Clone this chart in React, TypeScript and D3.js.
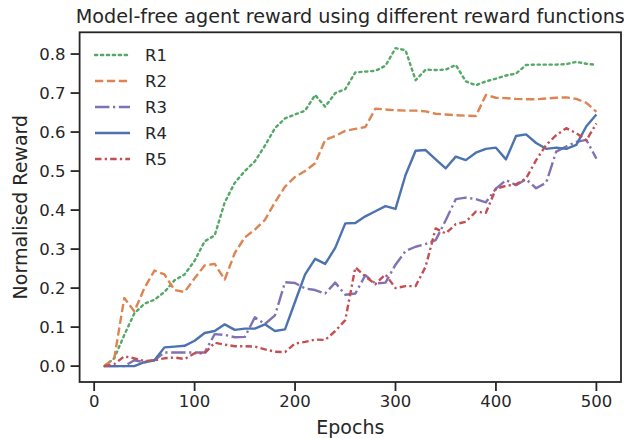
import React from "react";
import * as d3 from "d3";

const epochs = [10,20,30,40,50,60,70,80,90,100,110,120,130,140,150,160,170,180,190,200,210,220,230,240,250,260,270,280,290,300,310,320,330,340,350,360,370,380,390,400,410,420,430,440,450,460,470,480,490,500];

const r1 = [0.0,0.02,0.08,0.135,0.16,0.17,0.19,0.22,0.235,0.27,0.32,0.335,0.42,0.47,0.5,0.525,0.565,0.61,0.635,0.645,0.655,0.695,0.665,0.7,0.71,0.753,0.755,0.757,0.77,0.815,0.81,0.733,0.76,0.759,0.76,0.772,0.73,0.72,0.73,0.737,0.745,0.75,0.772,0.773,0.773,0.773,0.774,0.78,0.775,0.772];
const r2 = [0.0,0.02,0.175,0.14,0.2,0.245,0.235,0.195,0.19,0.225,0.258,0.262,0.222,0.29,0.33,0.35,0.375,0.42,0.46,0.485,0.5,0.52,0.58,0.59,0.603,0.608,0.613,0.66,0.658,0.656,0.655,0.655,0.653,0.647,0.645,0.643,0.642,0.641,0.695,0.688,0.687,0.685,0.684,0.684,0.686,0.688,0.689,0.685,0.675,0.652];
const r3 = [0.0,0.0,0.0,0.015,0.01,0.015,0.035,0.035,0.035,0.035,0.035,0.082,0.08,0.074,0.075,0.125,0.108,0.13,0.215,0.213,0.199,0.195,0.186,0.214,0.183,0.186,0.233,0.212,0.214,0.26,0.295,0.306,0.313,0.323,0.374,0.428,0.432,0.428,0.42,0.455,0.477,0.464,0.479,0.456,0.47,0.55,0.563,0.575,0.58,0.532];
const r4 = [0.0,0.0,0.0,0.0,0.01,0.015,0.048,0.05,0.052,0.065,0.085,0.09,0.107,0.093,0.096,0.096,0.107,0.09,0.094,0.165,0.235,0.275,0.262,0.303,0.366,0.367,0.384,0.397,0.41,0.403,0.49,0.552,0.554,0.53,0.507,0.537,0.528,0.547,0.557,0.56,0.53,0.59,0.594,0.572,0.557,0.56,0.557,0.567,0.615,0.645];
const r5 = [0.0,0.005,0.025,0.02,0.013,0.015,0.02,0.022,0.018,0.033,0.033,0.06,0.055,0.051,0.051,0.05,0.043,0.037,0.036,0.058,0.062,0.068,0.067,0.09,0.118,0.253,0.23,0.21,0.235,0.2,0.205,0.205,0.255,0.353,0.34,0.364,0.37,0.396,0.393,0.455,0.462,0.466,0.481,0.528,0.567,0.592,0.61,0.597,0.579,0.622];

const seriesNames = ["R1", "R2", "R3", "R4", "R5"];
const seriesValues = [r1, r2, r3, r4, r5];
const colors = ["#55A868", "#DD8452", "#8172B3", "#4C72B0", "#C44E52"];
const dashes = ["2.25,3.7", "8.3,3.6", "14.4,3.6,2.25,3.6", "", "6.5,3.2,2.25,3.2"];

const xTicks = [0, 100, 200, 300, 400, 500];
const yTicks = [0.0, 0.1, 0.2, 0.3, 0.4, 0.5, 0.6, 0.7, 0.8];

const W = 624, H = 438;
const left = 79.6, right = 621, top = 32.3, bottom = 382;
const ink = "#262626";
const font = "DejaVu Sans, sans-serif";

export default function App() {
  const x = d3.scaleLinear().domain([-14.5, 524.5]).range([left, right]);
  const y = d3.scaleLinear().domain([-0.04075, 0.85575]).range([bottom, top]);
  const line = d3.line<[number, number]>().x(d => x(d[0])).y(d => y(d[1]));

  return (
    <svg width={W} height={H} style={{ position: "absolute", left: 0, top: 0, background: "#fff" }} fontFamily={font}>
      <rect x={0} y={0} width={W} height={H} fill="#fff" />
      <text x={(left + right) / 2} y={23} textAnchor="middle" fontSize={19.2} fill={ink}>
        Model-free agent reward using different reward functions
      </text>
      {seriesValues.map((vals, i) => (
        <path key={i}
          d={line(epochs.map((e, j) => [e, vals[j]] as [number, number])) || ""}
          fill="none" stroke={colors[i]} strokeWidth={2.4}
          strokeDasharray={dashes[i] || undefined}
          strokeLinecap={i === 0 ? "round" : "butt"} strokeLinejoin="round" />
      ))}
      <rect x={left} y={top} width={right - left} height={bottom - top} fill="none" stroke={ink} strokeWidth={1.8} />
      {xTicks.map(t => (
        <g key={t}>
          <line x1={x(t)} x2={x(t)} y1={bottom} y2={bottom + 9} stroke={ink} strokeWidth={1.8} />
          <text x={x(t)} y={bottom + 25} textAnchor="middle" fontSize={16.5} fill={ink}>{t}</text>
        </g>
      ))}
      {yTicks.map(t => (
        <g key={t}>
          <line x1={left - 9} x2={left} y1={y(t)} y2={y(t)} stroke={ink} strokeWidth={1.8} />
          <text x={left - 14} y={y(t) + 6} textAnchor="end" fontSize={16.5} fill={ink}>{t.toFixed(1)}</text>
        </g>
      ))}
      <text x={(left + right) / 2} y={434} textAnchor="middle" fontSize={19} fill={ink}>Epochs</text>
      <text transform={`translate(27,${(top + bottom) / 2}) rotate(-90)`} textAnchor="middle" fontSize={19} fill={ink}>Normalised Reward</text>
      {seriesNames.map((n, i) => {
        const ly = 55 + i * 26;
        return (
          <g key={n}>
            <line x1={95} x2={130} y1={ly} y2={ly} stroke={colors[i]} strokeWidth={2.4}
              strokeDasharray={dashes[i] || undefined} strokeLinecap={i === 0 ? "round" : "butt"} />
            <text x={145} y={ly + 6} fontSize={16.5} fill={ink}>{n}</text>
          </g>
        );
      })}
    </svg>
  );
}
